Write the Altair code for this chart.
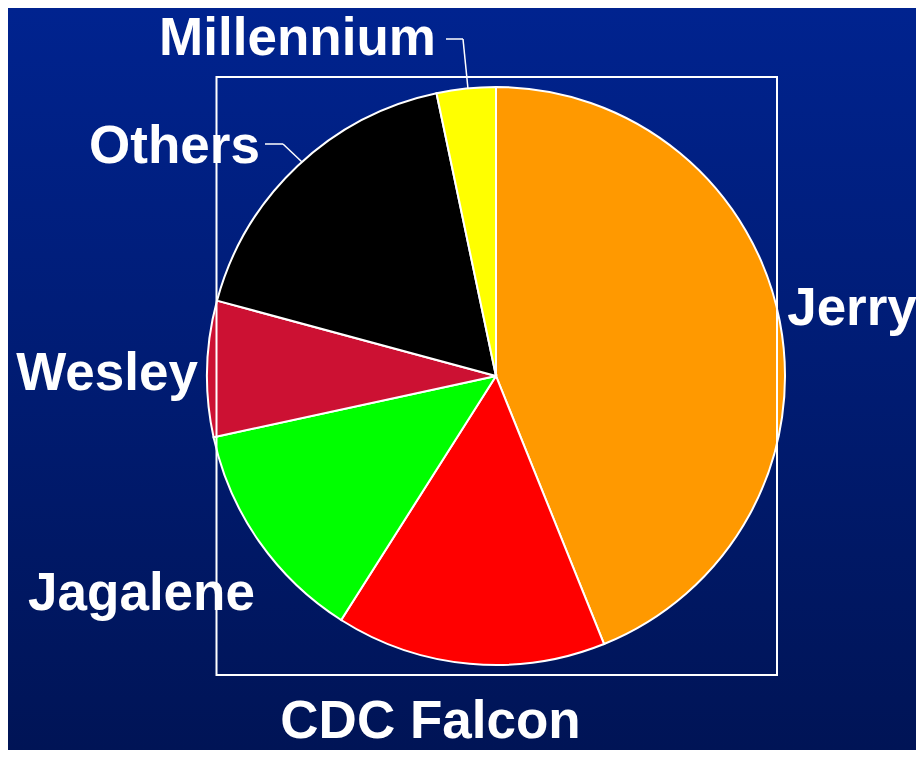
import altair as alt
import pandas as pd

# Data (shares in percent, clockwise from 12 o'clock)
varieties = ["Jerry", "CDC Falcon", "Jagalene", "Wesley", "Others", "Millennium"]
shares = [43.9, 15.1, 12.6, 7.6, 17.5, 3.3]
colors = ["#FF9900", "#FF0000", "#00FF00", "#CC1133", "#000000", "#FFFF00"]

W, H = 908, 742
OFF = 8  # page margin

df = pd.DataFrame({"variety": varieties, "share": shares, "order": list(range(len(varieties)))})

bg = alt.Chart(pd.DataFrame({"a": [0]})).mark_rect(
    color=alt.LinearGradient(
        gradient="linear",
        stops=[alt.GradientStop(color="#00238F", offset=0), alt.GradientStop(color="#001456", offset=1)],
        x1=0, x2=0, y1=0, y2=1,
    )
).encode(x=alt.value(0), x2=alt.value(W), y=alt.value(0), y2=alt.value(H))

frame = alt.Chart(pd.DataFrame({"a": [0]})).mark_rect(
    fill=None, stroke="white", strokeWidth=2, filled=False
).encode(x=alt.value(216.5 - OFF), x2=alt.value(777 - OFF), y=alt.value(77 - OFF), y2=alt.value(675 - OFF))

pie = alt.Chart(df).mark_arc(radius=289, stroke="white", strokeWidth=2).encode(
    theta=alt.Theta("share:Q", stack=True),
    order=alt.Order("order:O"),
    color=alt.Color("variety:N", scale=alt.Scale(domain=varieties, range=colors), legend=None),
    x=alt.value(496 - OFF),
    y=alt.value(376 - OFF),
)

# label layout (reference pixel positions: centre x, baseline y)
label_pos = {
    "Jerry": (852, 325),
    "CDC Falcon": (430.5, 738),
    "Jagalene": (141.5, 610),
    "Wesley": (107, 390),
    "Others": (174.5, 163),
    "Millennium": (297.5, 55),
}
labels = []
for name in varieties:
    lx, ly = label_pos[name]
    labels.append(
        alt.Chart(pd.DataFrame({"t": [name]})).mark_text(
            font="Liberation Sans", fontWeight="bold", fontSize=53, color="white",
            align="center", baseline="alphabetic",
        ).encode(text="t:N", x=alt.value(lx - OFF), y=alt.value(ly - OFF))
    )

# leader lines (reference pixel coordinates)
leaders = [
    [(446, 39), (463, 39), (468, 89)],
    [(265, 144), (283, 144), (302, 162)],
]
lines = []
for pts in leaders:
    for (x1, y1), (x2, y2) in zip(pts[:-1], pts[1:]):
        lines.append(
            alt.Chart(pd.DataFrame({"a": [0]})).mark_rule(color="white", strokeWidth=1.5).encode(
                x=alt.value(x1 - OFF), y=alt.value(y1 - OFF), x2=alt.value(x2 - OFF), y2=alt.value(y2 - OFF)
            )
        )

chart = alt.layer(bg, pie, frame, *lines, *labels).properties(
    width=W, height=H, autosize=alt.AutoSizeParams(type="none"), padding=0
).configure_view(stroke=None).configure(background="#001d7a")

chart.save("out.html", embed_options={"renderer": "svg", "actions": False})
